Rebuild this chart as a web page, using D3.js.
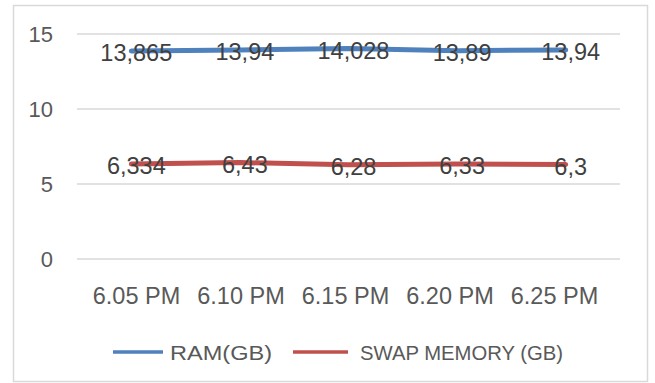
<!DOCTYPE html>
<html><head><meta charset="utf-8">
<script src="https://cdn.jsdelivr.net/npm/d3@7"></script>
<style>html,body{margin:0;padding:0;background:#fff;}svg{display:block;font-family:"Liberation Sans",Arial,sans-serif;}</style>
</head><body>
<svg id="c" width="655" height="383"></svg>
<script>
const categories = ["6.05 PM","6.10 PM","6.15 PM","6.20 PM","6.25 PM"];
const ramValues = [13.865, 13.94, 14.028, 13.89, 13.94];
const swapValues = [6.334, 6.43, 6.28, 6.33, 6.3];
const ramLabels = ["13,865","13,94","14,028","13,89","13,94"];
const swapLabels = ["6,334","6,43","6,28","6,33","6,3"];
const yTicks = [0,5,10,15];
const seriesNames = ["RAM(GB)","SWAP MEMORY (GB)"];
const colors = ["#4F81BD","#C0504D"];

const svg = d3.select("#c");
svg.append("rect").attr("x",13.5).attr("y",5.5).attr("width",634).attr("height",376)
  .attr("fill","#fff").attr("stroke","#d9d9d9").attr("stroke-width",1.5);

const x = d3.scalePoint().domain(categories).range([77,620]).padding(0.5);
const xLab = d3.scalePoint().domain(categories).range([136,554]).padding(0);
const y = d3.scaleLinear().domain([0,15]).range([259,34]);

// gridlines
svg.append("g").selectAll("line").data(yTicks).join("line")
  .attr("x1",77).attr("x2",620).attr("y1",d=>y(d)).attr("y2",d=>y(d))
  .attr("stroke","#d9d9d9").attr("stroke-width",1.5);

// y axis labels
const yAxis = d3.axisLeft(y).tickValues(yTicks).tickSize(0).tickPadding(0);
const gy = svg.append("g").attr("transform","translate(53,0)").call(yAxis);
gy.select(".domain").remove();
gy.selectAll("text").attr("font-size",22).attr("fill","#595959").attr("font-family","Liberation Sans, Arial, sans-serif");

// x axis labels
const xAxis = d3.axisBottom(xLab).tickSize(0).tickPadding(0);
const gx = svg.append("g").attr("transform","translate(0,287)").call(xAxis);
gx.select(".domain").remove();
gx.selectAll("text").attr("font-size",23.5).attr("fill","#595959").attr("font-family","Liberation Sans, Arial, sans-serif");

const line = d3.line().x((d,i)=>x(categories[i])).y(d=>y(d));
[ramValues, swapValues].forEach((vals,k)=>{
  svg.append("path").datum(vals).attr("d",line).attr("fill","none")
    .attr("stroke",colors[k]).attr("stroke-width",5).attr("stroke-linecap","round").attr("stroke-linejoin","round");
});

// data labels
[[ramValues,ramLabels],[swapValues,swapLabels]].forEach(([vals,labs])=>{
  svg.append("g").selectAll("text").data(vals).join("text")
    .attr("x",(d,i)=>x(categories[i])+5).attr("y",d=>y(d)+10)
    .attr("text-anchor","middle").attr("font-size",23.5).attr("fill","#404040")
    .text((d,i)=>labs[i]);
});

// legend
const lg = svg.append("g");
lg.append("line").attr("x1",113).attr("x2",163).attr("y1",352).attr("y2",352).attr("stroke",colors[0]).attr("stroke-width",3.5);
lg.append("text").attr("x",170).attr("y",360).attr("font-size",21).attr("fill","#595959")
  .attr("textLength",102).attr("lengthAdjust","spacingAndGlyphs").text(seriesNames[0]);
lg.append("line").attr("x1",293).attr("x2",348).attr("y1",352).attr("y2",352).attr("stroke",colors[1]).attr("stroke-width",3.5);
lg.append("text").attr("x",360).attr("y",360).attr("font-size",21).attr("fill","#595959")
  .attr("textLength",203).attr("lengthAdjust","spacingAndGlyphs").text(seriesNames[1]);
</script>
</body></html>
